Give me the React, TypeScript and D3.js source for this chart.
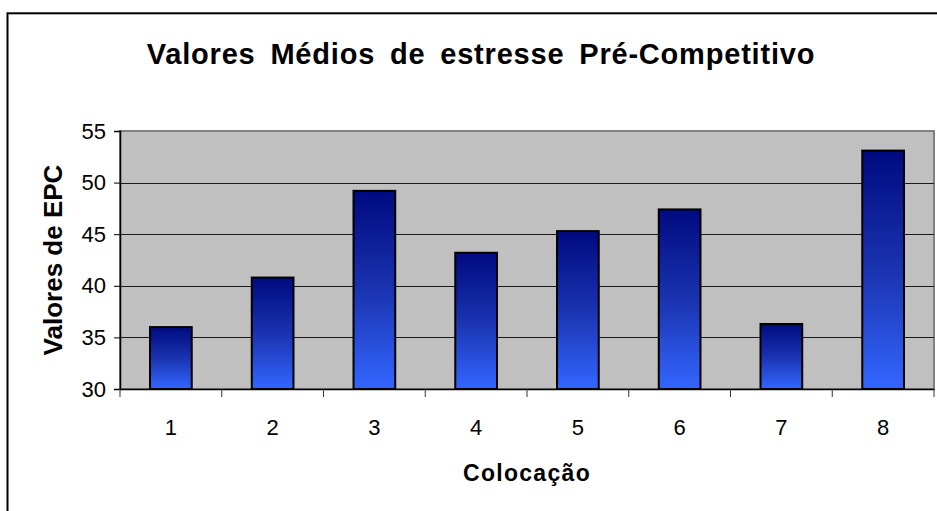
import { useEffect, useRef } from 'react'
import * as d3 from 'd3'

const categories = ['1', '2', '3', '4', '5', '6', '7', '8']
const values = [36.0, 40.8, 49.2, 43.2, 45.3, 47.4, 36.3, 53.1]
const yTicks = [30, 35, 40, 45, 50, 55]

const title = 'Valores Médios de estresse Pré-Competitivo'
const yTitle = 'Valores de EPC'
const xTitle = 'Colocação'

const App = () => {
  const svgRef = useRef<SVGSVGElement | null>(null)

  useEffect(() => {
    const width = 937
    const height = 511
    const left = 120
    const right = 934
    const top = 131
    const bottom = 389
    const font = '"Liberation Sans", Arial, sans-serif'

    const svg = d3.select(svgRef.current)
      .attr('width', width)
      .attr('height', height)
    svg.selectAll('*').remove()

    const x = d3.scaleBand<string>()
      .domain(categories)
      .range([left, right])
      .paddingInner(0.59)
      .paddingOuter(0.295)

    const y = d3.scaleLinear().domain([30, 55]).range([bottom, top])

    const grad = svg.append('defs').append('linearGradient')
      .attr('id', 'barGrad')
      .attr('x1', 0).attr('y1', 0).attr('x2', 0).attr('y2', 1)
    grad.append('stop').attr('offset', '0%').attr('stop-color', '#000a80')
    grad.append('stop').attr('offset', '50%').attr('stop-color', '#1a33b0')
    grad.append('stop').attr('offset', '100%').attr('stop-color', '#3366ff')

    // outer chart border (runs past the right and bottom of the window)
    svg.append('rect')
      .attr('x', 7.5).attr('y', 13.3)
      .attr('width', 950).attr('height', 520)
      .attr('fill', '#fff')
      .attr('stroke', '#000').attr('stroke-width', 2)

    // plot area
    svg.append('rect')
      .attr('x', left).attr('y', top)
      .attr('width', right - left).attr('height', bottom - top)
      .attr('fill', '#c0c0c0')
      .attr('stroke', '#808080').attr('stroke-width', 2)

    svg.append('g')
      .selectAll('line')
      .data(yTicks.filter(d => d > 30 && d < 55))
      .join('line')
      .attr('x1', left).attr('x2', right)
      .attr('y1', d => Math.round(y(d)) + 0.5)
      .attr('y2', d => Math.round(y(d)) + 0.5)
      .attr('stroke', '#1a1a1a')

    svg.append('g')
      .selectAll('rect')
      .data(values)
      .join('rect')
      .attr('x', (d, i) => x(categories[i])!)
      .attr('y', d => y(d))
      .attr('width', x.bandwidth())
      .attr('height', d => bottom - y(d))
      .attr('fill', 'url(#barGrad)')
      .attr('stroke', '#000')
      .attr('stroke-width', 2)

    // y axis
    const yAxis = svg.append('g')
      .attr('transform', `translate(${left},0)`)
      .call(d3.axisLeft(y).tickValues(yTicks).tickSize(6).tickPadding(8).tickFormat(d3.format('d')))
    yAxis.select('.domain').attr('stroke', '#000').attr('stroke-width', 1.5)
    yAxis.selectAll('.tick line').attr('stroke', '#000')
    yAxis.selectAll('text')
      .attr('font-family', font).attr('font-size', 22).attr('fill', '#000')

    // x axis
    const xAxis = svg.append('g')
      .attr('transform', `translate(0,${bottom})`)
      .call(d3.axisBottom(x).tickSize(0).tickPadding(30))
    xAxis.select('.domain').attr('stroke', '#000').attr('stroke-width', 1.5)
    xAxis.selectAll('text')
      .attr('font-family', font).attr('font-size', 22).attr('fill', '#000')

    // category separators on the x axis
    const step = x.step()
    svg.append('g')
      .selectAll('line')
      .data(d3.range(categories.length + 1))
      .join('line')
      .attr('x1', i => left + i * step)
      .attr('x2', i => left + i * step)
      .attr('y1', bottom)
      .attr('y2', bottom + 8)
      .attr('stroke', '#333')

    svg.append('text')
      .attr('x', 481).attr('y', 64)
      .attr('text-anchor', 'middle')
      .attr('font-family', font).attr('font-size', 29).attr('font-weight', 'bold')
      .attr('letter-spacing', 0.8)
      .attr('word-spacing', 6)
      .text(title)

    svg.append('text')
      .attr('transform', `translate(62,${(top + bottom) / 2}) rotate(-90)`)
      .attr('text-anchor', 'middle')
      .attr('font-family', font).attr('font-size', 26).attr('font-weight', 'bold')
      .text(yTitle)

    svg.append('text')
      .attr('x', (left + right) / 2).attr('y', 481)
      .attr('text-anchor', 'middle')
      .attr('font-family', font).attr('font-size', 23).attr('font-weight', 'bold')
      .attr('letter-spacing', 1.3)
      .text(xTitle)
  }, [])

  return (
    <div style={{ position: 'absolute', left: 0, top: 0 }}>
      <svg ref={svgRef} style={{ display: 'block' }}></svg>
    </div>
  )
}

export default App
